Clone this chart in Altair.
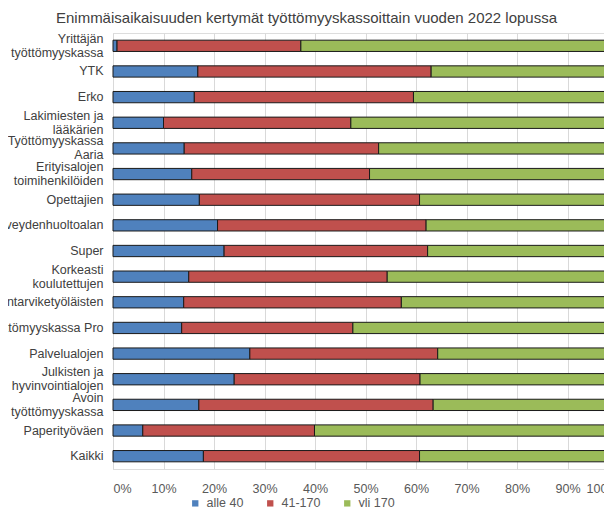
import altair as alt
import pandas as pd

# Categories (top to bottom); "|" marks a line break in the axis label
categories = [
    "Yrittäjän|työttömyyskassa",
    "YTK",
    "Erko",
    "Lakimiesten ja|lääkärien",
    "Työttömyyskassa|Aaria",
    "Erityisalojen|toimihenkilöiden",
    "Opettajien",
    "Terveydenhuoltoalan",
    "Super",
    "Korkeasti|koulutettujen",
    "Elintarviketyöläisten",
    "Työttömyyskassa Pro",
    "Palvelualojen",
    "Julkisten ja|hyvinvointialojen",
    "Avoin|työttömyyskassa",
    "Paperityöväen",
    "Kaikki",
]

# Shares in percent
alle_40 = [0.8, 16.8, 16.1, 10.0, 14.1, 15.6, 17.1, 20.7, 22.0, 15.0, 14.0, 13.6, 27.1, 24.0, 17.0, 5.9, 17.9]
v41_170 = [36.4, 46.2, 43.4, 37.1, 38.5, 35.2, 43.6, 41.3, 40.3, 39.3, 43.1, 33.9, 37.2, 36.8, 46.4, 34.0, 42.8]
yli_170 = [62.8, 37.0, 40.5, 52.9, 47.4, 49.2, 39.3, 38.0, 37.7, 45.7, 42.9, 52.5, 35.7, 39.2, 36.6, 60.1, 39.3]

series = ["alle 40", "41-170", "yli 170"]
colors = ["#4F81BD", "#C0504D", "#9BBB59"]

tick_values = [0, 10, 20, 30, 40, 50, 60, 70, 80, 90, 100]

title_text = "Enimmäisaikaisuuden kertymät työttömyyskassoittain vuoden 2022 lopussa"

rows = []
for i, cat in enumerate(categories):
    for j, (name, vals) in enumerate(zip(series, [alle_40, v41_170, yli_170])):
        rows.append({"kassa": cat, "sarja": name, "osuus": vals[i], "jarjestys": j})
df = pd.DataFrame(rows)

FONT = "Liberation Sans"

chart = (
    alt.Chart(df)
    .mark_bar(stroke="#1a1a1a", strokeWidth=1)
    .encode(
        y=alt.Y(
            "kassa:N",
            sort=categories,
            title=None,
            scale=alt.Scale(paddingInner=0.56, paddingOuter=0.28),
            axis=alt.Axis(
                labelExpr="split(datum.label, '|')",
                labelFont=FONT,
                labelFontSize=12.5,
                labelColor="#404040",
                labelLineHeight=14,
                labelLimit=400,
                labelPadding=10,
                labelOffset={
                    "condition": {"test": "indexof(datum.value, '|') >= 0", "value": -7},
                    "value": 0,
                },
                ticks=False,
                domainColor="#d9d9d9",
            ),
        ),
        x=alt.X(
            "osuus:Q",
            stack="zero",
            title=None,
            scale=alt.Scale(domain=[0, 100], nice=False),
            axis=alt.Axis(
                values=tick_values,
                labelExpr="datum.value + '%'",
                labelFont=FONT,
                labelFontSize=12.5,
                labelColor="#595959",
                labelPadding=13,
                grid=True,
                gridColor="#d9d9d9",
                ticks=False,
                domain=False,
            ),
        ),
        color=alt.Color(
            "sarja:N",
            sort=series,
            scale=alt.Scale(domain=series, range=colors),
            legend=alt.Legend(
                title=None,
                orient="none",
                direction="horizontal",
                legendX=76,
                legendY=464,
                symbolType="square",
                symbolSize=40,
                symbolStrokeWidth=0,
                labelFont=FONT,
                labelFontSize=12.5,
                labelColor="#595959",
                columnPadding=20,
                labelOffset=5,
            ),
        ),
        order=alt.Order("jarjestys:Q"),
    )
    .properties(
        width=505,
        height=436,
        autosize=alt.AutoSizeParams(type="none"),
        padding={"left": 105, "top": 25, "right": -14, "bottom": 43},
        title=alt.TitleParams(
            text=title_text,
            font=FONT,
            fontSize=15,
            fontWeight="normal",
            color="#404040",
            anchor="middle",
            dx=-59,
            offset=6,
        ),
    )
    .configure_view(stroke=None)
    .configure(background="white")
)

chart.save("out.html", embed_options={"renderer": "svg", "actions": False})
